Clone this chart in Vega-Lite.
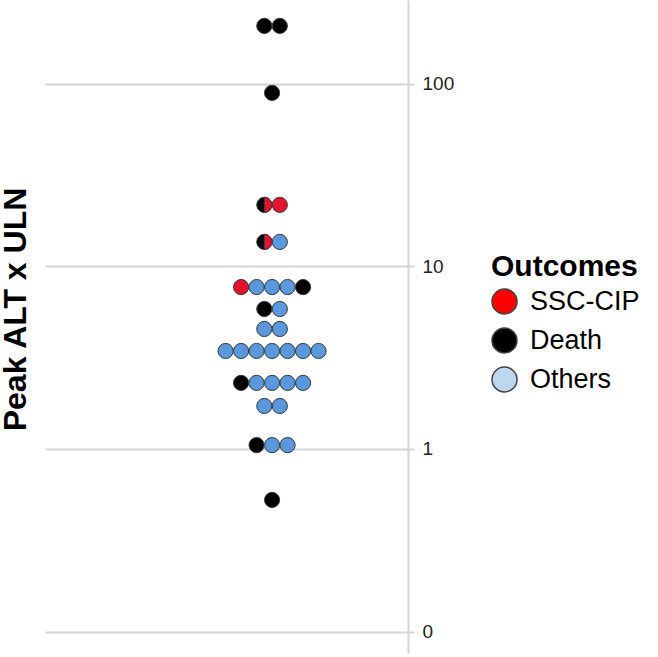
{
  "$schema": "https://vega.github.io/schema/vega-lite/v6.json",
  "autosize": "none",
  "width": 363,
  "height": 653,
  "padding": {"left": 45, "top": 0, "right": 250, "bottom": 4},
  "background": "white",
  "config": {"view": {"stroke": null}, "font": "Liberation Sans"},
  "data": {
    "values": [
      {"value": 207, "off": -0.5, "outcome": "Death", "also": ""},
      {"value": 207, "off": 0.5, "outcome": "Death", "also": ""},
      {"value": 89, "off": 0, "outcome": "Death", "also": ""},
      {"value": 21.7, "off": -0.5, "outcome": "Death", "also": "SSC-CIP"},
      {"value": 21.7, "off": 0.5, "outcome": "SSC-CIP", "also": ""},
      {"value": 13.6, "off": -0.5, "outcome": "Death", "also": "SSC-CIP"},
      {"value": 13.6, "off": 0.5, "outcome": "Others", "also": ""},
      {"value": 7.7, "off": -2, "outcome": "SSC-CIP", "also": ""},
      {"value": 7.7, "off": -1, "outcome": "Others", "also": ""},
      {"value": 7.7, "off": 0, "outcome": "Others", "also": ""},
      {"value": 7.7, "off": 1, "outcome": "Others", "also": ""},
      {"value": 7.7, "off": 2, "outcome": "Death", "also": ""},
      {"value": 5.84, "off": -0.5, "outcome": "Death", "also": ""},
      {"value": 5.84, "off": 0.5, "outcome": "Others", "also": ""},
      {"value": 4.54, "off": -0.5, "outcome": "Others", "also": ""},
      {"value": 4.54, "off": 0.5, "outcome": "Others", "also": ""},
      {"value": 3.44, "off": -3, "outcome": "Others", "also": ""},
      {"value": 3.44, "off": -2, "outcome": "Others", "also": ""},
      {"value": 3.44, "off": -1, "outcome": "Others", "also": ""},
      {"value": 3.44, "off": 0, "outcome": "Others", "also": ""},
      {"value": 3.44, "off": 1, "outcome": "Others", "also": ""},
      {"value": 3.44, "off": 2, "outcome": "Others", "also": ""},
      {"value": 3.44, "off": 3, "outcome": "Others", "also": ""},
      {"value": 2.3, "off": -2, "outcome": "Death", "also": ""},
      {"value": 2.3, "off": -1, "outcome": "Others", "also": ""},
      {"value": 2.3, "off": 0, "outcome": "Others", "also": ""},
      {"value": 2.3, "off": 1, "outcome": "Others", "also": ""},
      {"value": 2.3, "off": 2, "outcome": "Others", "also": ""},
      {"value": 1.72, "off": -0.5, "outcome": "Others", "also": ""},
      {"value": 1.72, "off": 0.5, "outcome": "Others", "also": ""},
      {"value": 1.05, "off": -1, "outcome": "Death", "also": ""},
      {"value": 1.05, "off": 0, "outcome": "Others", "also": ""},
      {"value": 1.05, "off": 1, "outcome": "Others", "also": ""},
      {"value": 0.526, "off": 0, "outcome": "Death", "also": ""}
    ]
  },
  "encoding": {
    "x": {"field": "off", "type": "quantitative", "scale": {"domain": [-14.65, 8.77]}, "axis": null},
    "y": {
      "field": "value",
      "type": "quantitative",
      "scale": {"type": "log", "domain": [0.0764, 287], "nice": false},
      "axis": {
        "orient": "right",
        "values": [0.1, 1, 10, 100],
        "labelExpr": "datum.value < 0.5 ? '0' : datum.label",
        "grid": true,
        "gridColor": "#d4d4d4",
        "gridWidth": 2,
        "domainColor": "#d4d4d4",
        "domainWidth": 2,
        "tickColor": "#d4d4d4",
        "tickWidth": 2,
        "tickSize": 6,
        "labelPadding": 8,
        "labelFontSize": 19,
        "labelColor": "#222222",
        "labelFont": "Liberation Sans",
        "title": "Peak ALT x ULN",
        "titleFont": "Liberation Sans",
        "titleFontSize": 32,
        "titleFontWeight": "bold",
        "titleColor": "#000000",
        "titleAngle": 270,
        "titleAlign": "center",
        "titleBaseline": "alphabetic",
        "titleX": -383,
        "titleY": 309
      }
    }
  },
  "layer": [
    {
      "mark": {"type": "point", "filled": true, "shape": "circle", "size": 625, "opacity": 0},
      "encoding": {
        "color": {
          "field": "outcome",
          "type": "nominal",
          "scale": {"domain": ["SSC-CIP", "Death", "Others"], "range": ["#ff0000", "#000000", "#bdd7ee"]},
          "legend": {
            "title": "Outcomes",
            "orient": "none",
            "legendX": 446,
            "legendY": 252,
            "titleFont": "Liberation Sans",
            "titleFontSize": 30,
            "titleFontWeight": "bold",
            "titleColor": "#000000",
            "titlePadding": 6,
            "labelFont": "Liberation Sans",
            "labelFontSize": 27,
            "labelColor": "#000000",
            "labelOffset": 12,
            "symbolType": "circle",
            "symbolSize": 625,
            "symbolStrokeColor": "#404040",
            "symbolStrokeWidth": 1.5,
            "symbolOpacity": 1,
            "rowPadding": 8
          }
        }
      }
    },
    {
      "mark": {"type": "point", "filled": true, "shape": "circle", "size": 230, "opacity": 1, "stroke": "#3a3a3a", "strokeWidth": 1},
      "encoding": {
        "fill": {
          "field": "outcome",
          "type": "nominal",
          "scale": {"domain": ["SSC-CIP", "Death", "Others"], "range": ["#e3132f", "#000000", "#5a97dc"]},
          "legend": null
        }
      }
    },
    {
      "transform": [{"filter": "datum.also === 'SSC-CIP'"}],
      "mark": {"type": "point", "filled": true, "shape": "M0,-1A1,1,0,0,1,0,1Z", "size": 230, "opacity": 1, "fill": "#e3132f", "stroke": "#3a3a3a", "strokeWidth": 1}
    }
  ]
}
